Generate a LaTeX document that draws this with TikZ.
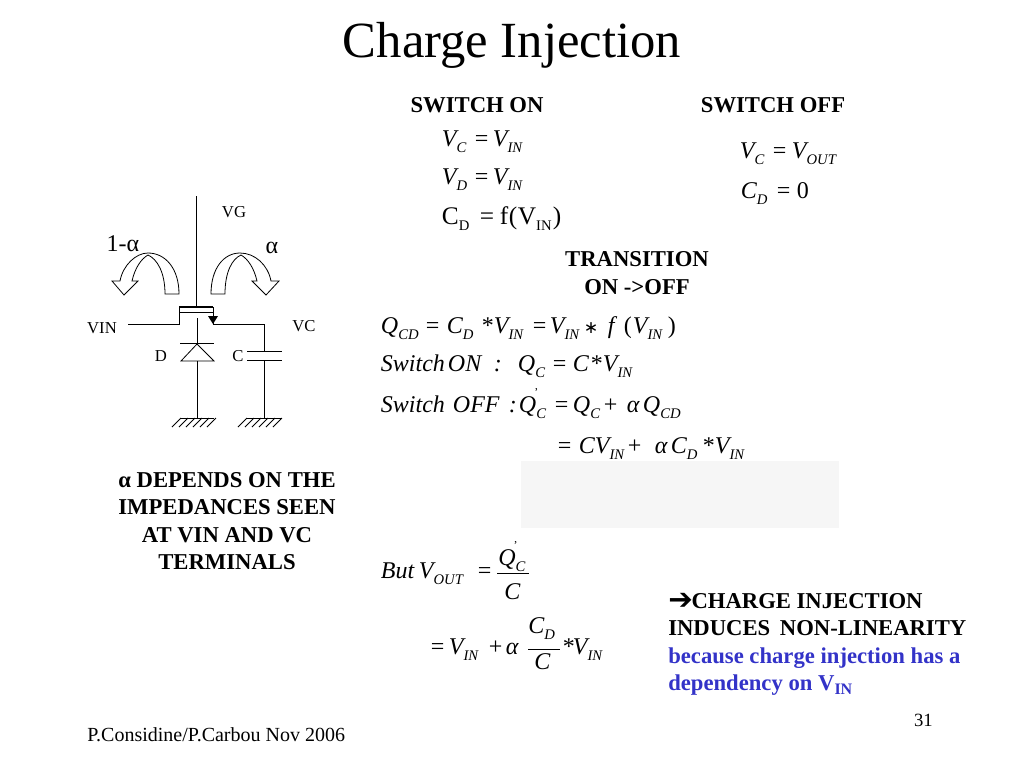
\documentclass[tikz,border=0pt]{standalone}
\usepackage{fontspec}
\usetikzlibrary{positioning}
\setmainfont{Liberation Serif}
\newfontfamily\symfont{DejaVu Sans}
\definecolor{bluetxt}{RGB}{51,51,200}
\definecolor{patch}{RGB}{246,246,246}
% font size and line skip in pt, 1 unit is 0.75pt
\newlength{\pxu}
\setlength{\pxu}{0.75pt}
\newcommand{\fs}[2]{\fontsize{#1}{#2}\selectfont}
\newcommand{\sbi}[1]{\raisebox{-5pt}{\fs{11}{11}\itshape #1}}
\newcommand{\sbr}[1]{\raisebox{-5pt}{\fs{11}{11}\upshape #1}}
\newcommand{\sbb}[1]{\raisebox{-3pt}{\fs{12}{12}\bfseries #1}}
\newcommand{\prm}{\raisebox{12pt}{\fs{9}{9}\upshape\kern-1.5pt'\kern-1.5pt}}
\newcommand{\gap}[1]{\hspace*{#1pt}}
% piece of a formula, #1 units right of the start of its node
\newcommand{\pos}[2]{\makebox[0pt][l]{\hspace*{#1\pxu}#2}}
\newcommand{\eqs}{{\upshape =}}
\newcommand{\pls}{{\upshape +}}
\newcommand{\tms}{{\upshape *}}
\tikzset{
	eqn/.style={anchor=base west,inner sep=0pt,font=\fs{18}{20}\itshape},
	lbl/.style={inner sep=0pt,font=\fs{12.5}{14}},
	head/.style={inner sep=0pt,align=center,font=\fs{17}{20.6}\bfseries},
	wire/.style={draw,line width=0.6pt},
	plate/.style={draw,line width=0.6pt},
	bendarrow/.style={draw,line width=0.6pt,fill=white,line join=miter},
}
\begin{document}
\begin{tikzpicture}[x=0.75pt,y=-0.75pt]
	\useasboundingbox (0,0) rectangle (1024,768);
	\fill[patch] (521,461) rectangle (839,528);
	\node[inner sep=0pt,anchor=base,font=\fs{38}{40}] (title) at (512,57) {Charge Injection};
	% circuit
	\coordinate (gate_top) at (196,196);
	\coordinate (gate_low) at (196,307);
	\coordinate (vin_end) at (128,324);
	\coordinate (src_low) at (179,324);
	\coordinate (src_up) at (179,312);
	\coordinate (drn_up) at (213,312);
	\coordinate (drn_low) at (213,324);
	\coordinate (cap_turn) at (264,324);
	\coordinate (cap_up) at (264,351);
	\coordinate (cap_dn) at (264,360);
	\coordinate (gnd_c) at (264,418);
	\coordinate (dio_top) at (197,318);
	\coordinate (dio_tip) at (197,344);
	\coordinate (dio_base) at (197,361);
	\coordinate (gnd_d) at (197,418);
	\draw[wire] (gate_top) -- (gate_low);
	\draw[line width=2pt] (179,307) -- (213,307);
	\draw[wire] (vin_end) -- (src_low) -- (179,307);
	\draw[wire] (src_up) -- (drn_up);
	\draw[wire] (213,307) -- (drn_low) -- (cap_turn) -- (cap_up);
	\fill (208,316) -- (218,316) -- (213,324) -- cycle;
	\draw[plate] (247,351) -- (282,351);
	\draw[plate] (247,360) -- (282,360);
	\draw[wire] (cap_dn) -- (gnd_c);
	\draw[wire] (dio_top) -- (dio_tip);
	\draw[plate] (180,343) -- (214,343);
	\draw[plate] (dio_tip) -- (181,361) -- (214,361) -- cycle;
	\draw[wire] (dio_base) -- (gnd_d);
	\draw[wire] (181,418) -- (214,418);
	\draw[wire] (247,418) -- (282,418);
	\foreach \xg in {181,188,195,202,209,216}{
		\draw[wire] (\xg,418) -- ++(-9,9);
		\draw[wire] (\xg+66,418) -- ++(-9,9);
	}
	% curved arrows
	\draw[bendarrow] (211,294) .. controls (211,268) and (224,253) .. (240,253)
		.. controls (255,253) and (268,265) .. (271,281) -- (279,281) -- (266,295) -- (252,281) -- (257,281)
		.. controls (254,268) and (248,259) .. (241,255) .. controls (232,259) and (225,272) .. (225,294) -- cycle;
	\draw[bendarrow] (179,294) .. controls (179,268) and (165,253) .. (148,253)
		.. controls (136,253) and (123,265) .. (120,281) -- (112,281) -- (124,295) -- (138,281) -- (132,281)
		.. controls (135,268) and (141,259) .. (148,255) .. controls (157,259) and (165,272) .. (165,294) -- cycle;
	% labels
	\node[lbl] (vg) at (234,212) {VG};
	\node[lbl] (vin) at (102,328) {VIN};
	\node[lbl] (vc) at (304,326) {VC};
	\node[lbl] (dlab) at (161,356) {D};
	\node[lbl] (clab) at (238,356) {C};
	\node[inner sep=0pt,font=\fs{18}{20}] (oneminus) at (123,244) {1-α};
	\node[inner sep=0pt,font=\fs{18}{20}] (alpha) at (272,248) {α};
	% headings
	\node[head] (on) at (477,105) {SWITCH ON};
	\node[head] (off) at (773,105) {SWITCH OFF};
	\node[head] (trans) at (637,273) {TRANSITION\\ON ->OFF};
	\node[head] (dep) at (227,521) {α DEPENDS ON THE\\IMPEDANCES SEEN\\AT VIN AND VC\\TERMINALS};
	% switch on
	\node[eqn] (on1) at (441,146) {\pos{0}{V\sbi{C}}\pos{33}{\eqs}\pos{51}{V\sbi{IN}}};
	\node[eqn] (on2) at (441,184) {\pos{0}{V\sbi{D}}\pos{33}{\eqs}\pos{51}{V\sbi{IN}}};
	\node[eqn,font=\fs{19}{20}] (on3) at (441,224) {\pos{0}{C\sbr{D}}\pos{38}{=}\pos{58}{f}\pos{67}{(}\pos{76}{V\sbr{IN}}\pos{111}{)}};
	% switch off
	\node[eqn] (off1) at (739,158) {\pos{0}{V\sbi{C}}\pos{33}{\eqs}\pos{52}{V\sbi{OUT}}};
	\node[eqn] (off2) at (740,198) {\pos{0}{C\sbi{D}}\pos{36}{\eqs}\pos{56}{\upshape 0}};
	% transition
	\node[eqn] (q1) at (380,333) {\pos{0}{Q\sbi{CD}}\pos{45}{\eqs}\pos{66}{C\sbi{D}}\pos{101}{\tms}\pos{113}{V\sbi{IN}}\pos{152}{\eqs}\pos{169}{V\sbi{IN}}\pos{203}{{\symfont\upshape\fs{13}{13}∗}}\pos{227}{f}\pos{243}{\upshape (}\pos{252}{V\sbi{IN}}\pos{287}{\upshape )}};
	\node[eqn] (q2) at (380,371) {\pos{0}{Switch}\pos{67}{ON}\pos{113}{:}\pos{137}{Q\sbi{C}}\pos{172}{\eqs}\pos{192}{C}\pos{210}{\tms}\pos{222}{V\sbi{IN}}};
	\node[eqn] (q3) at (380,412) {\pos{0}{Switch}\pos{72}{OFF}\pos{128}{:}\pos{138}{Q\prm\sbi{C}}\pos{174}{\eqs}\pos{192}{Q\sbi{C}}\pos{223}{\pls}\pos{246}{α}\pos{262}{Q\sbi{CD}}};
	\node[eqn] (q4) at (557,453) {\pos{0}{\eqs}\pos{21}{CV\sbi{IN}}\pos{70}{\pls}\pos{97}{α}\pos{113}{C\sbi{D}}\pos{145}{\tms}\pos{157}{V\sbi{IN}}};
	% vout
	\node[eqn] (but) at (380,578) {\pos{0}{But}\pos{38}{V\sbi{OUT}}\pos{97}{\eqs}};
	\node[eqn] (fn1) at (498,565) {Q\prm\sbi{C}};
	\node[eqn] (fd1) at (504,599) {C};
	\draw[line width=0.6pt] (497,573) -- (529,573);
	\node[eqn] (res) at (430,654) {\pos{0}{\eqs}\pos{18}{V\sbi{IN}}\pos{58}{\pls}\pos{75}{α}};
	\node[eqn] (fn2) at (528,633) {C\sbi{D}};
	\node[eqn] (fd2) at (534,669) {C};
	\draw[line width=0.6pt] (528,649) -- (560,649);
	\node[eqn] (res2) at (562,654) {\pos{0}{\tms}\pos{10}{V\sbi{IN}}};
	% note
	\node[inner sep=0pt,anchor=north west,align=left,font=\fs{17}{20.6}\bfseries] (note) at (668,593)
		{\smash{\raisebox{-1pt}{\symfont\fs{22}{20.6}➔}}\kern-1pt CHARGE INJECTION\\INDUCES\gap{3} NON-LINEARITY\\
		\textcolor{bluetxt}{because charge injection has a}\\
		\textcolor{bluetxt}{dependency on V\sbb{IN}}};
	% footer
	\node[inner sep=0pt,anchor=base west,font=\fs{15}{16}] (foot) at (87,741) {P.Considine/P.Carbou Nov 2006};
	\node[inner sep=0pt,anchor=base east,font=\fs{14}{16}] (page) at (933,726) {31};
\end{tikzpicture}
\end{document}
